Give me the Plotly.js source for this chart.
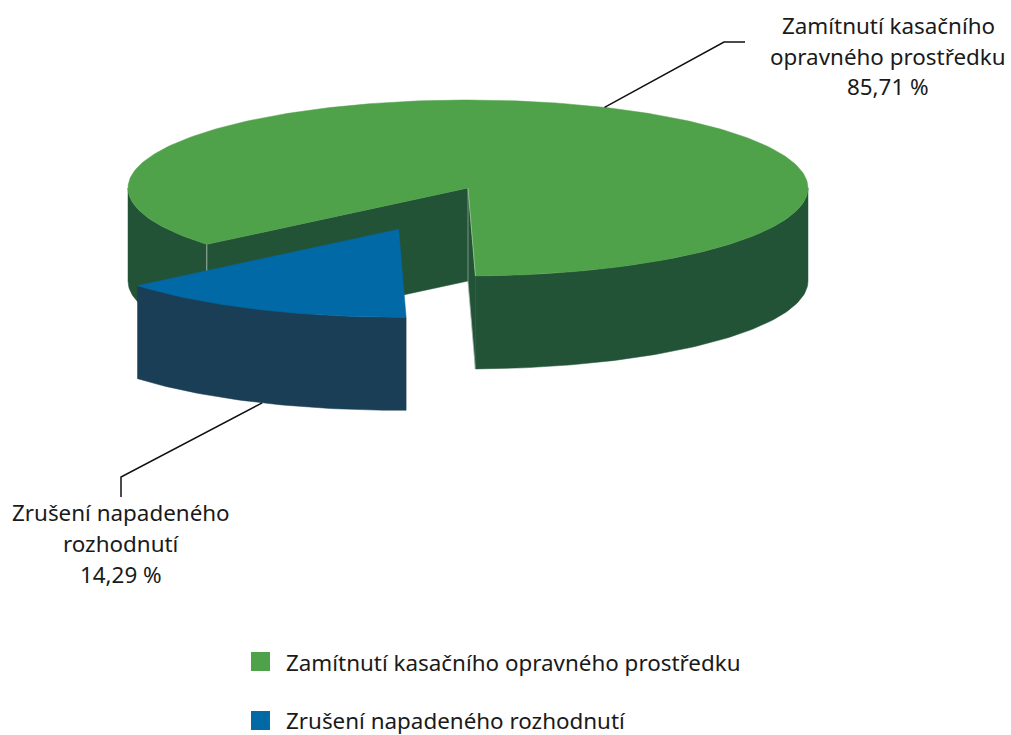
<!DOCTYPE html>
<html><head><meta charset="utf-8">
<script src="https://cdn.plot.ly/plotly-3.0.1.min.js"></script>
<style>html,body{margin:0;padding:0;background:#fff}#c{width:1011px;height:735px}</style>
</head><body><div id="c"></div>
<script>
// Data
const categories = ['Zamítnutí kasačního opravného prostředku', 'Zrušení napadeného rozhodnutí'];
const shares = [85.71, 14.29];
const shareLabels = ['85,71 %', '14,29 %'];
const labelLines = [['Zamítnutí kasačního', 'opravného prostředku'], ['Zrušení napadeného', 'rozhodnutí']];
const topColors = ['#50A24A', '#0069A6'];
const sideColors = ['#235336', '#1A3E56'];

// Projection of the pie
const W = 1011, H = 735;
const cx = 468, cy = 188, rx = 340, ry = 88, depth = 93;
const explode = [-69.3, 41.3];
const startAngle = 88.75;
const leaderShift = -0.8;
const FONT = '"Noto Sans", sans-serif';
const fontSize = 22.4;

const rad = d => d * Math.PI / 180;
const blueEnd = startAngle + shares[1] / 100 * 360;
const pt = (t, dx = 0, dy = 0) => [cx + dx + rx * Math.cos(rad(t)), cy + dy + ry * Math.sin(rad(t))];
function arc(a, b, dx = 0, dy = 0) {
  const out = [], n = Math.max(2, Math.ceil(Math.abs(b - a)));
  for (let i = 0; i <= n; i++) out.push(pt(a + (b - a) * i / n, dx, dy));
  return out;
}
function poly(points, color, line) {
  const closed = points.concat([points[0]]);
  return { x: closed.map(p => p[0]), y: closed.map(p => p[1]), type: 'scatter', mode: 'lines',
    fill: 'toself', fillcolor: color, line: { color: line || color, width: line ? 1 : 0.5 },
    hoverinfo: 'skip', showlegend: false };
}
function path(points, color, width) {
  return { x: points.map(p => p[0]), y: points.map(p => p[1]), type: 'scatter', mode: 'lines',
    line: { color, width }, hoverinfo: 'skip', showlegend: false };
}
function wall(a, b, dx = 0, dy = 0) {
  return arc(a, b, dx, dy).concat(arc(b, a, dx, dy + depth));
}

const traces = [];
// green body
traces.push(poly(wall(0, startAngle), sideColors[0]));
traces.push(poly(wall(blueEnd, 180), sideColors[0]));
const gA = pt(blueEnd), gB = pt(startAngle);
traces.push(poly([gA, [cx, cy], [cx, cy + depth], [gA[0], gA[1] + depth]], sideColors[0]));
traces.push(poly([[cx, cy], gB, [gB[0], gB[1] + depth], [cx, cy + depth]], sideColors[0]));
// seams
traces.push(path([gA, [gA[0], gA[1] + depth]], 'rgba(255,255,255,0.55)', 1));
traces.push(path([[cx, cy], [cx, cy + depth], [gB[0], gB[1] + depth]], 'rgba(255,255,255,0.4)', 1));
// green top
traces.push(poly([[cx, cy]].concat(arc(blueEnd, 360 + startAngle)), topColors[0]));
traces.push(path([[cx, cy], gB], 'rgba(255,255,255,0.35)', 1));
// blue body and top
const [ex, ey] = explode;
traces.push(poly(wall(startAngle, blueEnd, ex, ey), sideColors[1]));
traces.push(poly([[cx + ex, cy + ey]].concat(arc(startAngle, blueEnd, ex, ey)), topColors[1]));

// leader lines start on the rim at the middle of each slice
const greenMid = blueEnd + shares[0] / 100 * 180 + leaderShift;
const blueMid = startAngle + shares[1] / 100 * 180 + leaderShift;
const gRim = pt(greenMid);
const bRim = pt(blueMid, ex, ey + depth);
traces.push(path([gRim, [724, 42], [745, 42]], '#111', 1.5));
traces.push(path([bRim, [121, 477], [121, 497]], '#111', 1.5));

// legend swatches
traces.push({ x: [260.5, 260.5], y: [661.5, 720.5], type: 'scatter', mode: 'markers',
  marker: { symbol: 'square', size: 19, color: topColors, line: { width: 0 } },
  hoverinfo: 'skip', showlegend: false });

function note(text, x, y, anchor) {
  return { text, x, y, xref: 'x', yref: 'y', xanchor: anchor || 'center', yanchor: 'middle',
    showarrow: false, font: { family: FONT, size: fontSize, color: '#1a1a1a' } };
}
const annotations = [
  note(labelLines[0][0], 888, 25), note(labelLines[0][1], 888, 56), note(shareLabels[0], 888, 86),
  note(labelLines[1][0], 121, 512), note(labelLines[1][1], 121, 543), note(shareLabels[1], 121, 574),
  note(categories[0], 283.5, 662, 'left'), note(categories[1], 283.5, 720, 'left')
];

const axis = { visible: false, fixedrange: true, showgrid: false, zeroline: false };
Plotly.newPlot('c', traces, {
  width: W, height: H, margin: { l: 0, r: 0, t: 0, b: 0 },
  paper_bgcolor: '#fff', plot_bgcolor: '#fff', showlegend: false,
  xaxis: Object.assign({ range: [0, W] }, axis),
  yaxis: Object.assign({ range: [H, 0] }, axis),
  annotations
}, { displayModeBar: false, staticPlot: true });
</script></body></html>
